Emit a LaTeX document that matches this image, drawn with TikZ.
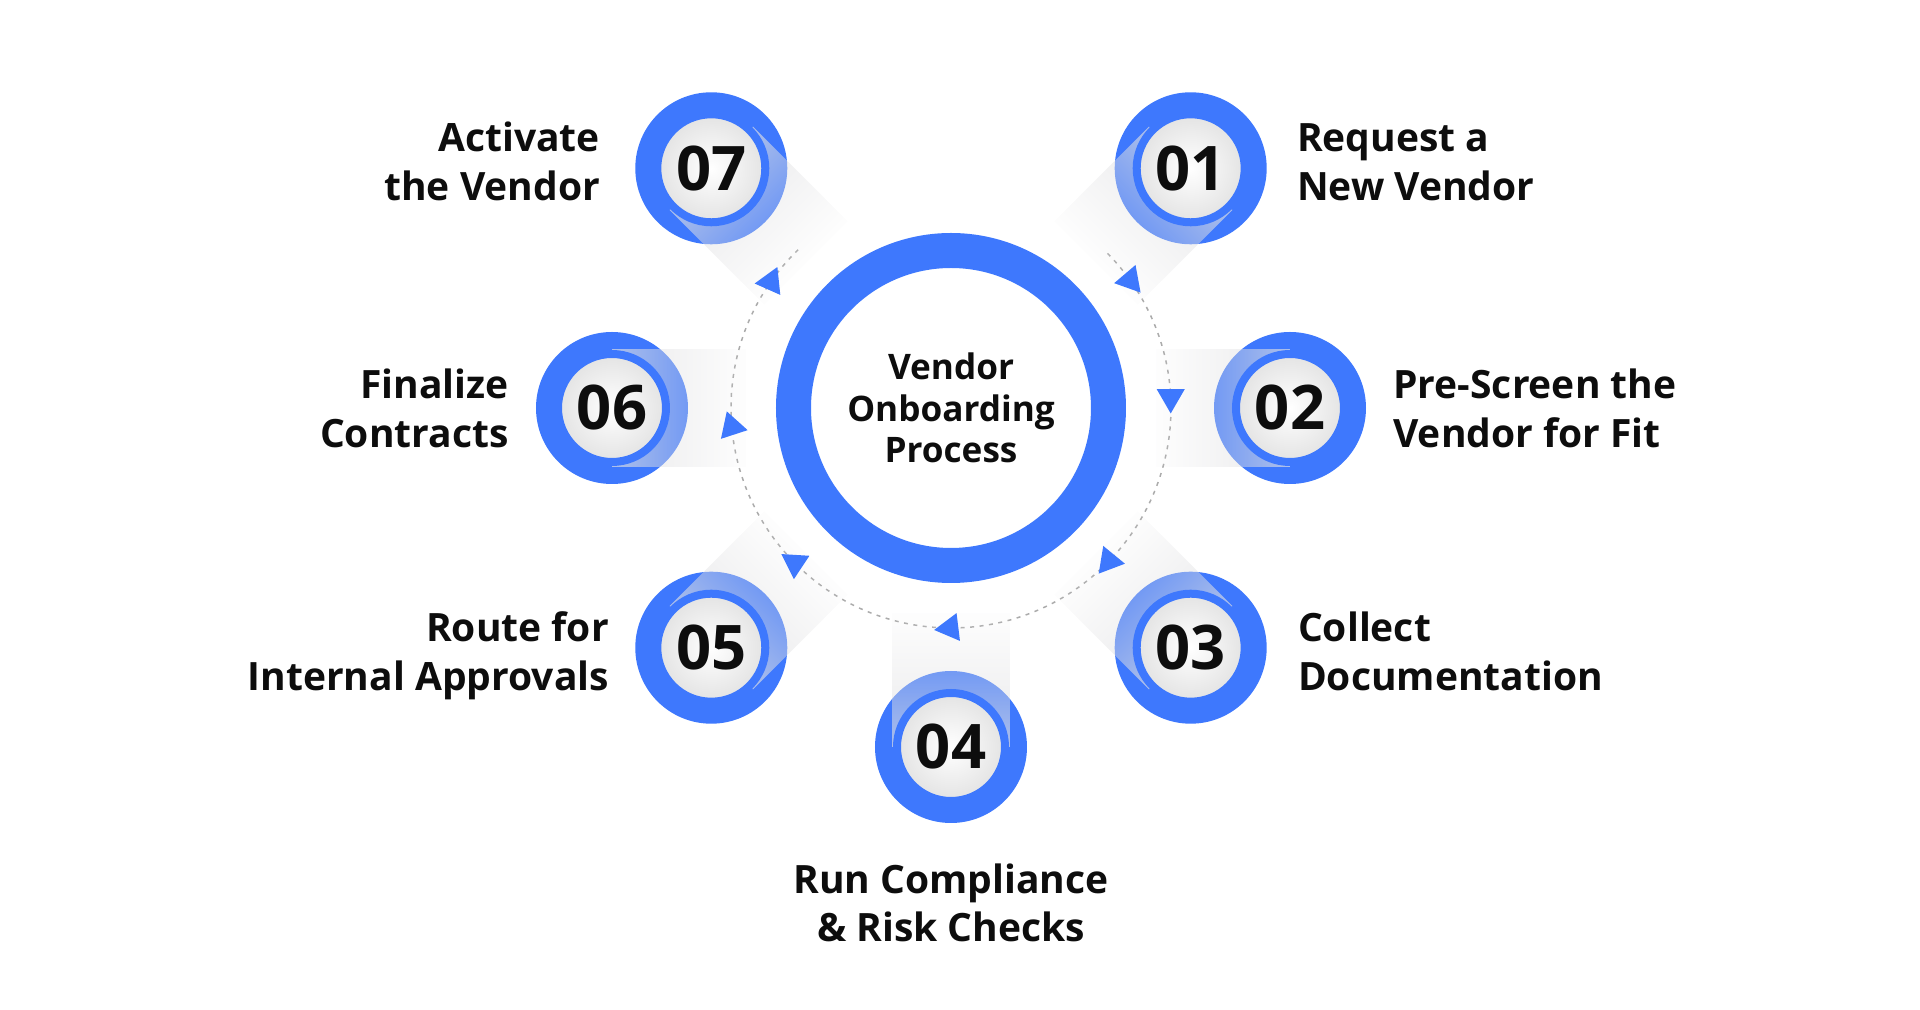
\documentclass[tikz,border=0pt]{standalone}
\usepackage{fontspec}
\setmainfont{Open Sans}
\usetikzlibrary{positioning,fadings}
\definecolor{Brand}{HTML}{3E78FD}
\definecolor{Ink}{HTML}{0D0D0D}
\definecolor{Dash}{HTML}{ABABAB}
\definecolor{Shadow}{HTML}{E0E0E2}
\tikzfading[name=stripfade,left color=transparent!95,right color=transparent!30]
\tikzset{
  badge/.style={circle,fill=Brand,minimum size=1.52cm,inner sep=0pt},
  numdisc/.style={circle,draw=Brand,line width=0.08cm,inner color=white,outer color=gray!22,minimum size=1.08cm,inner sep=0pt,font=\fontsize{17.5}{17.5}\selectfont\bfseries,text=Ink},
  hub/.style={circle,draw=Brand,line width=0.35cm,fill=white,minimum size=3.15cm,inner sep=0pt,align=center,font=\fontsize{10}{11.9}\selectfont\bfseries,text=Ink},
  steptext/.style={inner sep=0pt,font=\fontsize{11.1}{13.9}\selectfont\bfseries,text=Ink},
  ringline/.style={draw=Dash,line width=0.015cm,dash pattern=on 0.04cm off 0.055cm},
  ringarrow/.style={fill=Brand}
}

\begin{document}
\begin{tikzpicture}[x=0.1mm,y=0.1mm]
  \useasboundingbox (-951,-602) rectangle (969,408);
  % dotted track round the hub
  \draw[ringline] (134:220) arc[start angle=134,end angle=406,radius=220];
  % step badges
  \node[badge] (b1) at (45:339) {};
  \node[badge] (b2) at (0:339) {};
  \node[badge] (b3) at (-45:339) {};
  \node[badge] (b4) at (-90:339) {};
  \node[badge] (b5) at (-135:339) {};
  \node[badge] (b6) at (180:339) {};
  \node[badge] (b7) at (135:339) {};
  % soft strips toward the hub
  \foreach \a in {45,0,-45,-90,-135,180,135}{
    \begin{scope}[transform canvas={rotate=\a}]
      \fill[Shadow,path fading=stripfade] (205,-59) rectangle (339,59);
    \end{scope}
  }
  \node[numdisc] (n1) at (b1) {01};
  \node[numdisc] (n2) at (b2) {02};
  \node[numdisc] (n3) at (b3) {03};
  \node[numdisc] (n4) at (b4) {04};
  \node[numdisc] (n5) at (b5) {05};
  \node[numdisc] (n6) at (b6) {06};
  \node[numdisc] (n7) at (b7) {07};
  % arrow heads on the track
  \foreach \p/\r in {145/66,35.5/-49.6,2.8/-90,-44.1/-129.3,-90.2/-173,-135.2/146.5,184.9/108}
    \fill[ringarrow,shift={(\p:220)},rotate=\r] (0:16.2) -- (120:16.2) -- (240:16.2) -- cycle;
  \node[hub] (hub) at (0,0) {Vendor\\Onboarding\\Process};
  % step texts
  \node[steptext,align=left,right=0.29cm of b1,yshift=0.06cm] (t1) {Request a\\New Vendor};
  \node[steptext,align=left,right=0.26cm of b2] (t2) {Pre-Screen the\\Vendor for Fit};
  \node[steptext,align=left,right=0.30cm of b3,yshift=-0.04cm] (t3) {Collect\\Documentation};
  \node[steptext,align=center,below=0.39cm of b4] (t4) {Run Compliance\\\& Risk Checks};
  \node[steptext,align=right,left=0.25cm of b5,yshift=-0.08cm] (t5) {Route for\\Internal Approvals};
  \node[steptext,align=right,left=0.26cm of b6] (t6) {Finalize\\Contracts};
  \node[steptext,align=right,left=0.34cm of b7,yshift=0.07cm] (t7) {Activate\\the Vendor};
\end{tikzpicture}
\end{document}
